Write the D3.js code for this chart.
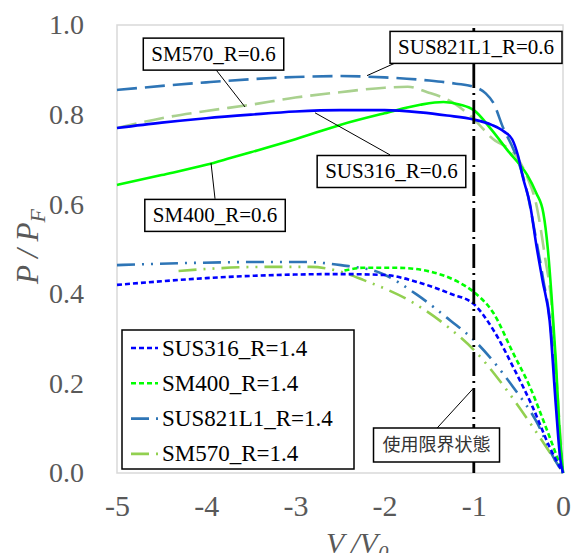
<!DOCTYPE html>
<html>
<head>
<meta charset="utf-8">
<script src="https://cdn.jsdelivr.net/npm/d3@7"></script>
<style>
  body { margin: 0; background: #fff; }
  svg { display: block; }
</style>
</head>
<body>
<div class="chart"></div>
<script>
// V/V0 and P/PF
var sus316_06_v = [-5, -4.5, -4, -3.5, -3, -2.5, -2, -1.6, -1.3, -1, -0.8, -0.66, -0.57, -0.5, -0.45, -0.37, -0.3, -0.23, -0.15, -0.08, -0.03, 0];
var sus316_06_p = [0.770, 0.782, 0.792, 0.800, 0.807, 0.810, 0.810, 0.805, 0.798, 0.789, 0.777, 0.762, 0.745, 0.705, 0.660, 0.600, 0.510, 0.430, 0.340, 0.150, 0.030, 0];

var sm400_06_v = [-5, -4.5, -4, -3.73, -3.5, -3, -2.5, -2, -1.6, -1.34, -1.15, -1, -0.8, -0.6, -0.5, -0.4, -0.3, -0.22, -0.17, -0.13, -0.08, -0.04, 0];
var sm400_06_p = [0.643, 0.665, 0.688, 0.703, 0.716, 0.745, 0.777, 0.803, 0.822, 0.828, 0.822, 0.810, 0.766, 0.715, 0.692, 0.665, 0.625, 0.580, 0.500, 0.400, 0.250, 0.100, 0];

var sus821_06_v = [-5, -4, -3, -2.5, -2, -1.5, -1.2, -1, -0.87, -0.78, -0.67, -0.55, -0.48, -0.4, -0.3, -0.22, -0.14, -0.07, 0];
var sus821_06_p = [0.855, 0.872, 0.884, 0.886, 0.883, 0.876, 0.869, 0.862, 0.848, 0.826, 0.770, 0.720, 0.683, 0.625, 0.520, 0.430, 0.330, 0.150, 0];

var sm570_06_v = [-5, -4.5, -4, -3.5, -3, -2.5, -2, -1.74, -1.52, -1.22, -1, -0.81, -0.5, -0.4, -0.3, -0.2, -0.13, -0.07, 0];
var sm570_06_p = [0.770, 0.792, 0.808, 0.822, 0.838, 0.850, 0.860, 0.862, 0.850, 0.825, 0.790, 0.750, 0.700, 0.660, 0.600, 0.480, 0.380, 0.200, 0];

var sus316_14_v = [-5, -4.5, -4, -3.5, -3, -2.5, -2, -1.63, -1.26, -1, -0.78, -0.56, -0.34, -0.15, 0];
var sus316_14_p = [0.420, 0.428, 0.435, 0.440, 0.443, 0.444, 0.442, 0.426, 0.400, 0.377, 0.319, 0.237, 0.147, 0.058, 0];

var sm400_14_v = [-2.45, -2.24, -1.85, -1.48, -1.18, -1, -0.78, -0.56, -0.37, -0.18, 0];
var sm400_14_p = [0.452, 0.458, 0.458, 0.449, 0.427, 0.404, 0.357, 0.268, 0.192, 0.096, 0];

var sus821_14_v = [-5, -4.15, -3.4, -2.9, -2.49, -2.04, -1.63, -1.26, -1, -0.56, -0.29, -0.11, 0];
var sus821_14_p = [0.464, 0.469, 0.471, 0.471, 0.464, 0.446, 0.397, 0.340, 0.297, 0.192, 0.112, 0.036, 0];

var sm570_14_v = [-4.31, -3.39, -2.83, -2.49, -2.24, -1.67, -1.29, -1, -0.63, -0.34, -0.07, 0];
var sm570_14_p = [0.451, 0.460, 0.460, 0.449, 0.431, 0.379, 0.326, 0.275, 0.185, 0.103, 0.022, 0];

var xTicks = [-5, -4, -3, -2, -1, 0];
var yTicks = [0, 0.2, 0.4, 0.6, 0.8, 1.0];
var limitV = -1;

function pts(v, p) {
    return v.map(function (d, i) { return [d, p[i]]; });
}

var series = [
    { name: "SUS316_R=0.6",   data: pts(sus316_06_v, sus316_06_p), color: "#0000ff", dash: null },
    { name: "SM400_R=0.6",    data: pts(sm400_06_v, sm400_06_p),   color: "#00ff00", dash: null },
    { name: "SUS821L1_R=0.6", data: pts(sus821_06_v, sus821_06_p), color: "#2e75b6", dash: "20 8" },
    { name: "SM570_R=0.6",    data: pts(sm570_06_v, sm570_06_p),   color: "#a9d18e", dash: "20 8" },
    { name: "SUS316_R=1.4",   data: pts(sus316_14_v, sus316_14_p), color: "#0000ff", dash: "5 3", legend: true },
    { name: "SM400_R=1.4",    data: pts(sm400_14_v, sm400_14_p),   color: "#00ff00", dash: "5 3", legend: true },
    { name: "SUS821L1_R=1.4", data: pts(sus821_14_v, sus821_14_p), color: "#2e75b6", dash: "18 7 2 7 2 7", legend: true },
    { name: "SM570_R=1.4",    data: pts(sm570_14_v, sm570_14_p),   color: "#92d050", dash: "18 7 2 7 2 7", legend: true }
];

// callouts: box centre and leader line, in data units
var callouts = [
    { text: "SM570_R=0.6",    cx: -3.918, cy: 0.935, from: [-3.890, 0.900], to: [-3.565, 0.817] },
    { text: "SM400_R=0.6",    cx: -3.901, cy: 0.575, from: [-3.901, 0.612], to: [-3.946, 0.692] },
    { text: "SUS821L1_R=0.6", cx: -0.975, cy: 0.950, from: [-1.883, 0.915], to: [-2.197, 0.887] },
    { text: "SUS316_R=0.6",   cx: -1.923, cy: 0.673, from: [-1.939, 0.710], to: [-2.780, 0.804] },
    { text: "使用限界状態",     cx: -1.418, cy: 0.0625, from: [-1.413, 0.100], to: [-1.009, 0.188], cjk: true }
];

var w = 574,
    h = 553,
    mLeft = 117, mRight = 563, mTop = 25, mBottom = 473;

var SERIF = "Liberation Serif",
    CJK = "Noto Sans CJK JP";

function font(sel, fam) {
    sel.attr("font-family", fam).style("font-family", "'" + fam + "'");
}

var svg = d3.select(".chart")
    .append("svg")
    .attr("width", w)
    .attr("height", h)
    .call(font, SERIF);

var x = d3.scaleLinear().domain([-5, 0]).range([mLeft, mRight]);
var y = d3.scaleLinear().domain([0, 1]).range([mBottom, mTop]);

// plot frame
svg.append("rect")
    .attr("x", mLeft)
    .attr("y", mTop)
    .attr("width", mRight - mLeft)
    .attr("height", mBottom - mTop)
    .attr("fill", "none")
    .attr("stroke", "#d9d9d9")
    .attr("stroke-width", 1.5);

// tick labels
svg.append("g")
    .attr("transform", "translate(0," + mBottom + ")")
    .call(d3.axisBottom(x).tickValues(xTicks).tickSize(0).tickPadding(22).tickFormat(function (d) { return String(d); }))
    .call(function (g) {
        g.call(font, SERIF).attr("font-size", 30);
        g.select(".domain").remove();
        g.selectAll("g").call(font, SERIF);
        g.selectAll("text")
            .call(font, SERIF)
            .attr("font-size", 30)
            .attr("fill", "#595959");
    });

svg.append("g")
    .attr("transform", "translate(" + (mLeft - 33) + ",0)")
    .call(d3.axisLeft(y).tickValues(yTicks).tickSize(0).tickPadding(0).tickFormat(d3.format(".1f")))
    .call(function (g) {
        g.call(font, SERIF).attr("font-size", 28);
        g.select(".domain").remove();
        g.selectAll("g").call(font, SERIF);
        g.selectAll("text")
            .call(font, SERIF)
            .attr("font-size", 28)
            .attr("fill", "#595959");
    });

// axis titles
var yt = svg.append("text")
    .attr("transform", "translate(38,284) rotate(-90)")
    .call(font, SERIF)
    .attr("font-style", "italic")
    .attr("font-size", 31)
    .attr("fill", "#595959");
yt.append("tspan").text("P / P");
yt.append("tspan").attr("dy", 7).attr("font-size", 22).text("F");

var xt = svg.append("text")
    .attr("x", 326)
    .attr("y", 553)
    .call(font, SERIF)
    .attr("font-style", "italic")
    .attr("font-size", 30)
    .attr("fill", "#595959");
xt.append("tspan").text("V /V");
xt.append("tspan").attr("dy", 7).attr("font-size", 21).text("0");

// curves
var line = d3.line()
    .x(function (d) { return x(d[0]); })
    .y(function (d) { return y(d[1]); })
    .curve(d3.curveMonotoneX);

svg.append("g").selectAll("path")
    .data(series.slice().reverse())
    .enter()
    .append("path")
    .attr("d", function (d) { return line(d.data); })
    .attr("fill", "none")
    .attr("stroke", function (d) { return d.color; })
    .attr("stroke-width", 2.6)
    .attr("stroke-dasharray", function (d) { return d.dash; });

// serviceability limit line
svg.append("line")
    .attr("x1", x(limitV))
    .attr("x2", x(limitV))
    .attr("y1", y(1) + 3)
    .attr("y2", mBottom)
    .attr("stroke", "#000")
    .attr("stroke-width", 2.8)
    .attr("stroke-dasharray", "24 5 2 5");

// callouts
var co = svg.append("g").selectAll("g")
    .data(callouts)
    .enter()
    .append("g");

co.append("line")
    .attr("x1", function (d) { return x(d.from[0]); })
    .attr("y1", function (d) { return y(d.from[1]); })
    .attr("x2", function (d) { return x(d.to[0]); })
    .attr("y2", function (d) { return y(d.to[1]); })
    .attr("stroke", "#000")
    .attr("stroke-width", 1);

co.append("rect")
    .attr("fill", "#fff")
    .attr("stroke", "#000")
    .attr("stroke-width", 1.5);

co.each(function (d) {
    var g = d3.select(this);
    var fam = d.cjk ? CJK : SERIF;
    g.call(font, fam);
    var t = g.append("text")
        .attr("x", x(d.cx))
        .attr("y", y(d.cy))
        .attr("text-anchor", "middle")
        .attr("dy", d.cjk ? "0.36em" : "0.33em")
        .call(font, fam)
        .attr("font-size", d.cjk ? 18 : 21)
        .attr("fill", d.cjk ? "#333" : "#000")
        .text(d.text);
    var tw = t.node().getComputedTextLength();
    var bw = tw + (d.cjk ? 18 : 16),
        bh = d.cjk ? 34 : 32;
    g.select("rect")
        .attr("x", x(d.cx) - bw / 2)
        .attr("y", y(d.cy) - bh / 2)
        .attr("width", bw)
        .attr("height", bh);
});

// legend for the R=1.4 curves
var legendItems = series.filter(function (d) { return d.legend; });
var lg = svg.append("g")
    .attr("transform", "translate(122,330)")
    .call(font, SERIF);

lg.append("rect")
    .attr("width", 232)
    .attr("height", 139)
    .attr("fill", "#fff")
    .attr("stroke", "#000")
    .attr("stroke-width", 1.5);

var li = lg.selectAll("g.item")
    .data(legendItems)
    .enter()
    .append("g")
    .attr("class", "item")
    .call(font, SERIF)
    .attr("transform", function (d, i) { return "translate(0," + (18 + i * 35.3) + ")"; });

li.append("line")
    .attr("x1", 9)
    .attr("x2", 36)
    .attr("stroke", function (d) { return d.color; })
    .attr("stroke-width", 2.6)
    .attr("stroke-dasharray", function (d) { return d.dash; });

li.append("text")
    .attr("x", 40)
    .attr("dy", "0.33em")
    .call(font, SERIF)
    .attr("font-size", 23)
    .attr("fill", "#000")
    .text(function (d) { return d.name; });
</script>
</body>
</html>
